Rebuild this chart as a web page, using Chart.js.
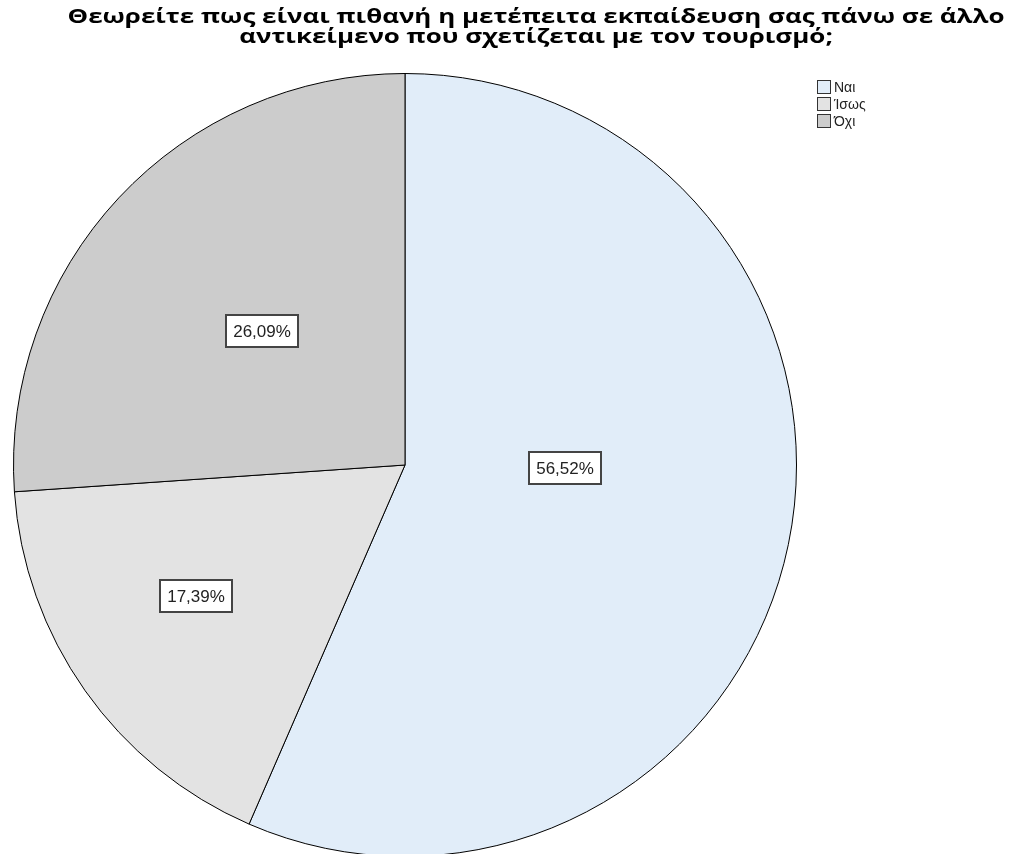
<!DOCTYPE html>
<html>
<head>
<meta charset="utf-8">
<script src="https://cdn.jsdelivr.net/npm/chart.js@4"></script>
<style>
  html, body { margin: 0; padding: 0; background: #fff; overflow: hidden; }
  #wrap { width: 1013px; height: 860px; position: relative; }
</style>
</head>
<body>
<div id="wrap"><canvas id="pie"></canvas></div>
<script>
const titleLines = [
  'Θεωρείτε πως είναι πιθανή η μετέπειτα εκπαίδευση σας πάνω σε άλλο',
  'αντικείμενο που σχετίζεται με τον τουρισμό;'
];
const categories = ['Ναι', 'Ίσως', 'Όχι'];
const percents = [56.52, 17.39, 26.09];
const sliceColors = ['#e1edf9', '#e3e3e3', '#cccccc'];

// where the value boxes sit inside each slice (share of angle, share of radius)
const labelSpots = [[0.447, 0.41], [0.55, 0.63], [0.5, 0.5]];

const spssLook = {
  id: 'spssLook',
  afterDraw(chart) {
    const ctx = chart.ctx;
    const meta = chart.getDatasetMeta(0);
    ctx.save();

    // value boxes
    ctx.font = '17px "Liberation Sans", Arial, sans-serif';
    ctx.textAlign = 'center';
    ctx.textBaseline = 'middle';
    meta.data.forEach((arc, i) => {
      const p = arc.getProps(['x', 'y', 'startAngle', 'endAngle', 'outerRadius'], true);
      const a = p.startAngle + (p.endAngle - p.startAngle) * labelSpots[i][0];
      const r = p.outerRadius * labelSpots[i][1];
      const x = Math.round(p.x + Math.cos(a) * r);
      const y = Math.round(p.y + Math.sin(a) * r);
      const txt = percents[i].toFixed(2).replace('.', ',') + '%';
      ctx.fillStyle = '#fff';
      ctx.fillRect(x - 36, y - 16, 72, 32);
      ctx.strokeStyle = '#444';
      ctx.lineWidth = 2;
      ctx.strokeRect(x - 36, y - 16, 72, 32);
      ctx.fillStyle = '#222';
      ctx.fillText(txt, x, y + 1);
    });

    // title: first line spans about x 68..1005, second line uses the same stretch
    ctx.fillStyle = '#000';
    ctx.textAlign = 'center';
    ctx.textBaseline = 'alphabetic';
    ctx.font = 'bold 20px "Open Sans", "Noto Sans", sans-serif';
    const sx = 937 / ctx.measureText(titleLines[0]).width;
    ctx.save();
    ctx.translate(536, 0);
    ctx.scale(sx, 1);
    ctx.fillText(titleLines[0], 0, 23);
    ctx.fillText(titleLines[1], 0, 43);
    ctx.restore();

    // legend
    ctx.font = '14px "Liberation Sans", Arial, sans-serif';
    ctx.textAlign = 'left';
    ctx.textBaseline = 'middle';
    categories.forEach((c, i) => {
      const y = 80 + i * 17;
      ctx.fillStyle = sliceColors[i];
      ctx.fillRect(817.5, y + 0.5, 13, 13);
      ctx.strokeStyle = '#333';
      ctx.lineWidth = 1;
      ctx.strokeRect(817.5, y + 0.5, 13, 13);
      ctx.fillStyle = '#222';
      ctx.fillText(c, 834, y + 8);
    });
    ctx.restore();
  }
};

new Chart(document.getElementById('pie'), {
  type: 'pie',
  data: {
    labels: categories,
    datasets: [{
      data: percents,
      backgroundColor: sliceColors,
      borderColor: '#000',
      borderWidth: 1
    }]
  },
  options: {
    responsive: true,
    maintainAspectRatio: false,
    animation: false,
    layout: { padding: { left: 13, right: 216, top: 73, bottom: 3 } },
    plugins: {
      legend: { display: false },
      title: { display: false },
      tooltip: { enabled: false }
    }
  },
  plugins: [spssLook]
});
</script>
</body>
</html>
